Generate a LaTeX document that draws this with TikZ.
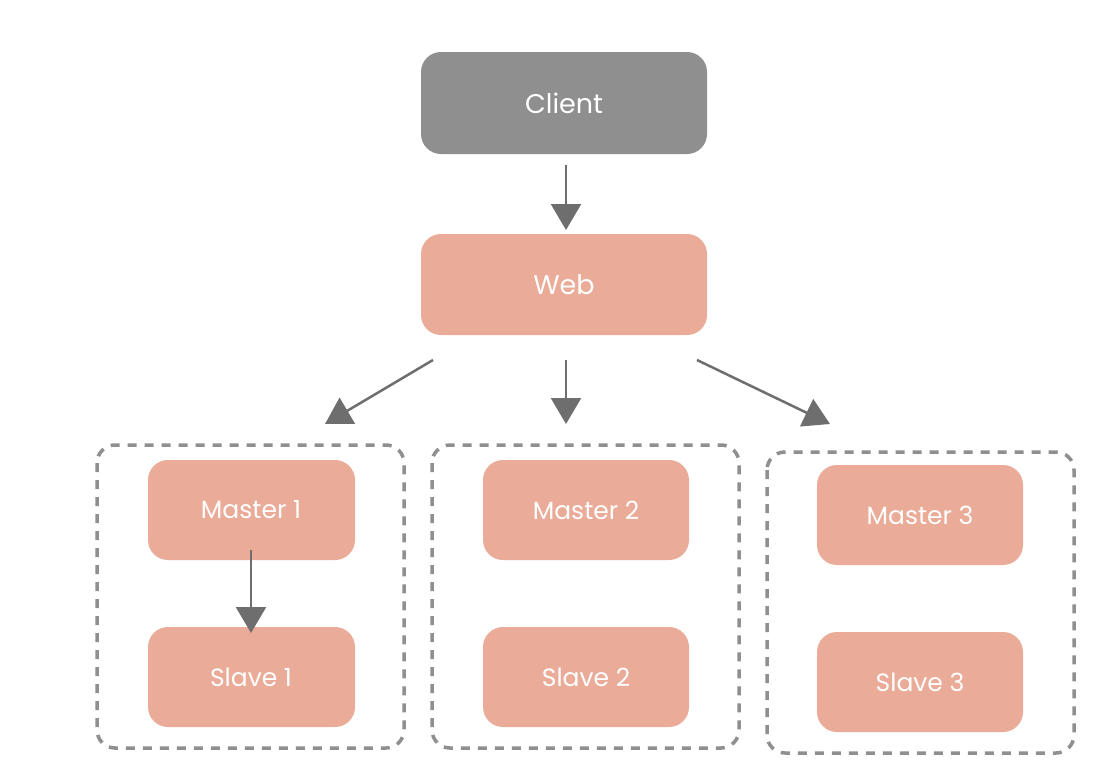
\documentclass[tikz,border=0pt]{standalone}
\usepackage{fontspec}
\setmainfont{Poppins}
\usetikzlibrary{arrows.meta}
\definecolor{cl}{HTML}{8F8F8F}
\definecolor{sal}{HTML}{EAAB98}
\definecolor{ar}{HTML}{6E6E6E}
\begin{document}
\begin{tikzpicture}[x=1pt,y=-1pt,
 box/.style={rounded corners=20pt,fill=sal,text=white,font=\fontsize{25}{30}\selectfont},
 grp/.style={draw=cl,line width=3.5pt,dash pattern=on 9pt off 8pt,rounded corners=18pt},
 arr/.style={draw=ar,line width=2.5pt,-{Triangle[width=30pt,length=26pt]}}]
\useasboundingbox (0,0) rectangle (1104,766);
\fill[white] (0,0) rectangle (1104,766);
\newcommand{\bx}[6]{\path[box,#6] (#2,#3) rectangle (#4,#5); \node[text=white,font=\fontsize{25}{30}\selectfont] (#1) at ({(#2+#4)/2},{(#3+#5)/2}) {#1};}
\path[box,fill=cl] (421,52) rectangle (707,154);
\node[text=white,font=\fontsize{27}{30}\selectfont] (client) at (564,103) {Client};
\path[box] (421,234) rectangle (707,335);
\node[text=white,font=\fontsize{27}{30}\selectfont] (web) at (564,285) {Web};
\path[box] (148,460) rectangle (355,560); \node[text=white,font=\fontsize{25}{30}\selectfont] (m1) at (251,510) {Master 1};
\path[box] (148,627) rectangle (355,727); \node[text=white,font=\fontsize{25}{30}\selectfont] (s1) at (251,677) {Slave 1};
\path[box] (483,460) rectangle (689,560); \node[text=white,font=\fontsize{25}{30}\selectfont] (m2) at (586,510) {Master 2};
\path[box] (483,627) rectangle (689,727); \node[text=white,font=\fontsize{25}{30}\selectfont] (s2) at (586,677) {Slave 2};
\path[box] (817,465) rectangle (1023,565); \node[text=white,font=\fontsize{25}{30}\selectfont] (m3) at (920,515) {Master 3};
\path[box] (817,632) rectangle (1023,732); \node[text=white,font=\fontsize{25}{30}\selectfont] (s3) at (920,682) {Slave 3};
\draw[grp] (97,445) rectangle (404,748);
\draw[grp] (432,445) rectangle (739,748);
\draw[grp] (767,452) rectangle (1074,753);
\coordinate (a0) at (566,165); \coordinate (a1) at (566,230);
\coordinate (w1) at (433,360); \coordinate (t1) at (325,424);
\coordinate (w2) at (566,360); \coordinate (t2) at (566,424);
\coordinate (w3) at (697,360); \coordinate (t3) at (830,424);
\draw[arr] (a0) -- (a1);
\draw[arr] (w1) -- (t1);
\draw[arr] (w2) -- (t2);
\draw[arr] (w3) -- (t3);
\draw[arr] ([yshift=10pt]m1.south |- 0,560) -- ([yshift=-6pt]s1.north |- 0,627);
\coordinate (p1) at (251,571); \coordinate (q1) at (251,621);
\coordinate (p2) at (586,571); \coordinate (q2) at (586,621);
\coordinate (p3) at (920,576); \coordinate (q3) at (920,626);
\end{tikzpicture}
\end{document}
